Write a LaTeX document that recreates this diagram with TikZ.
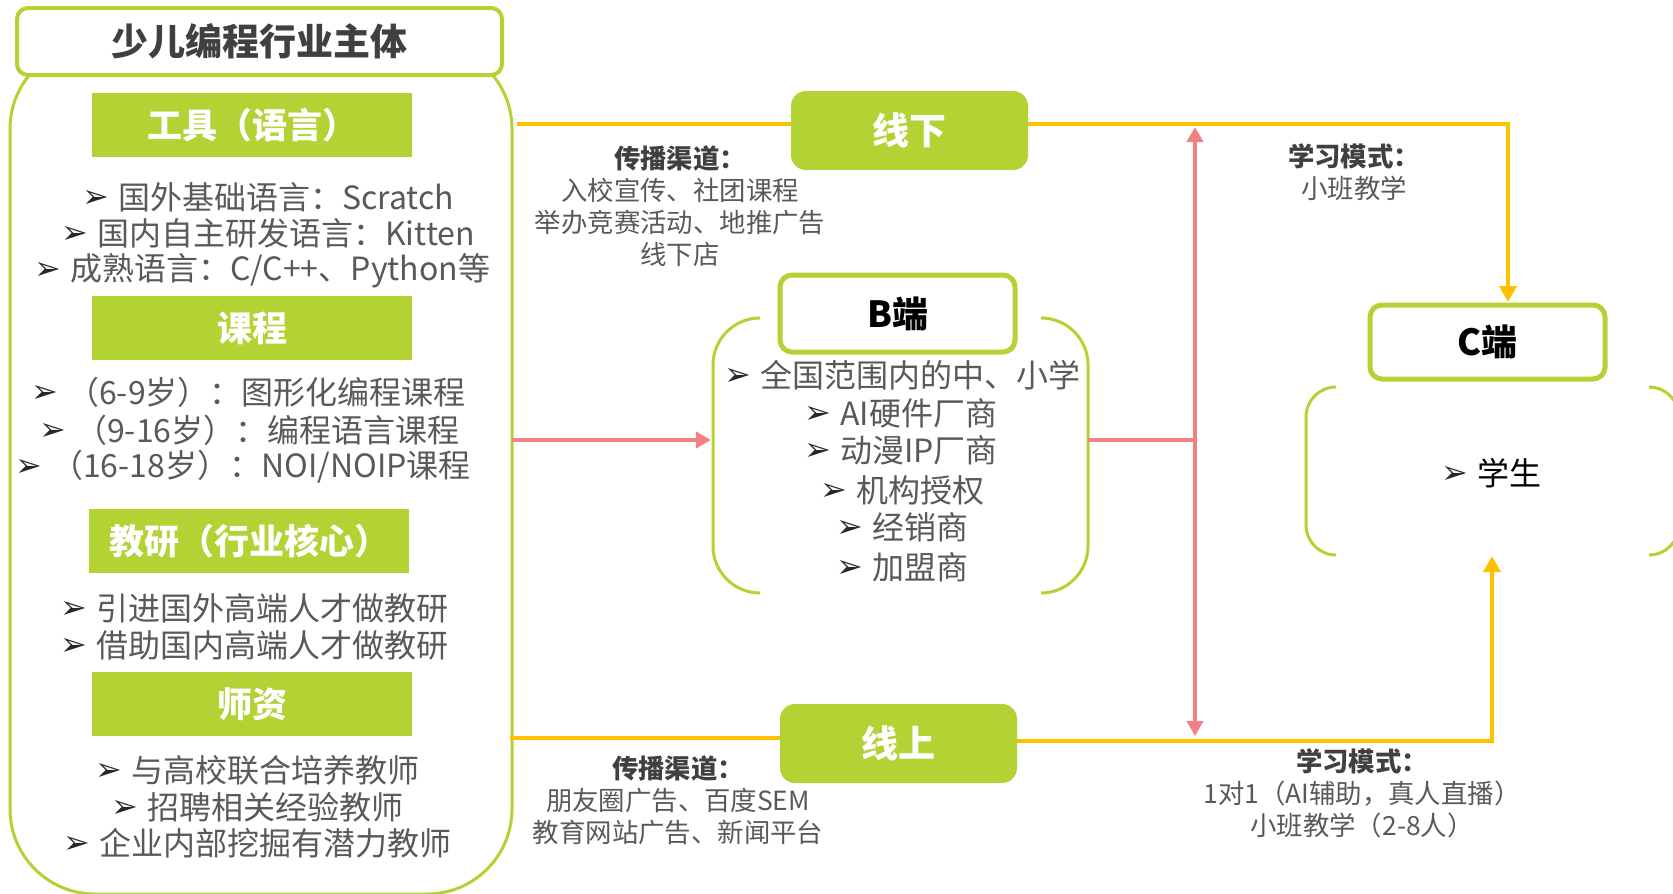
\documentclass[tikz,border=0pt]{standalone}
\usepackage{fontspec}
\setmainfont{Noto Sans CJK SC}
\newfontfamily\symf{DejaVu Sans}
\usetikzlibrary{arrows.meta}
\definecolor{lime}{RGB}{179,210,52}
\definecolor{org}{RGB}{255,192,0}
\definecolor{pnk}{RGB}{240,128,130}
\definecolor{txt}{RGB}{89,89,89}
\definecolor{hd}{RGB}{64,64,64}
\definecolor{arrc}{RGB}{40,40,40}
\newcommand\arw{\makebox[36pt][l]{\raisebox{1.5pt}{\symf\fontsize{32}{32}\selectfont\color{arrc}➢}}}
\begin{document}
\begin{tikzpicture}[x=1pt,y=-1pt,
  hdrbox/.style={fill=lime, text=white, minimum width=320pt, minimum height=64pt, inner sep=0pt, font=\fontsize{35}{40}\selectfont\bfseries},
  itm/.style={anchor=west, inner sep=0pt, text=txt, font=\fontsize{32}{36}\selectfont},
  chan/.style={fill=lime, text=white, rounded corners=15pt, minimum width=237pt, minimum height=79pt, inner sep=0pt, font=\fontsize{37}{40}\selectfont\bfseries},
  endbox/.style={draw=lime, line width=5pt, fill=white, rounded corners=12pt, minimum width=235pt, inner sep=0pt, text=black, font=\fontsize{36}{40}\selectfont\bfseries},
  lbl/.style={align=center, text=txt, inner sep=0pt, font=\fontsize{26.4}{32}\selectfont},
  orgln/.style={draw=org, line width=4.5pt},
  pinkln/.style={draw=pnk, line width=4pt},
  brk/.style={draw=lime, line width=3pt},
  otip/.tip={Triangle[width=17pt,length=16pt]},
  ptip/.tip={Triangle[width=16pt,length=15pt]}]
\useasboundingbox (0,0) rectangle (1673,894);
\clip (0,0) rectangle (1673,894);

% left frame and title
\node[draw=lime, line width=3pt, rounded corners=85pt, minimum width=502pt, minimum height=850pt, inner sep=0pt] (leftbox) at (261,469) {};
\node[draw=lime, line width=4pt, rounded corners=11pt, fill=white, minimum width=485pt, minimum height=67pt, inner sep=0pt, text=hd, font=\fontsize{37}{40}\selectfont\bfseries] (title) at (259.5,41.5) {少儿编程行业主体};

% headers
\node[hdrbox] (h1) at (252,125) {工具（语言）};
\node[hdrbox] (h2) at (252,328) {课程};
\node[hdrbox] (h3) at (249,541) {教研（行业核心）};
\node[hdrbox] (h4) at (252,704) {师资};

% items
\node[itm] (a1) at (82,197) {\arw 国外基础语言：Scratch};
\node[itm] (a2) at (61,233) {\arw 国内自主研发语言：Kitten};
\node[itm] (a3) at (34,271) {\arw 成熟语言：C/C++、Python等};
\node[itm] (b1) at (31,392) {\arw （6-9岁）：图形化编程课程};
\node[itm] (b2) at (39,430) {\arw （9-16岁）：编程语言课程};
\node[itm] (b3) at (15,467) {\arw （16-18岁）：NOI/NOIP课程};
\node[itm] (c1) at (60,608) {\arw 引进国外高端人才做教研};
\node[itm] (c2) at (60,645) {\arw 借助国内高端人才做教研};
\node[itm] (d1) at (95,770) {\arw 与高校联合培养教师};
\node[itm] (d2) at (111,807) {\arw 招聘相关经验教师};
\node[itm] (d3) at (63,843) {\arw 企业内部挖掘有潜力教师};

% orange connectors
\coordinate (oL1) at (517,124);
\coordinate (oC1) at (1508,124);
\coordinate (oT1) at (1508,302);
\coordinate (oL2) at (510,738);
\coordinate (oR2) at (1017,741);
\coordinate (oC2) at (1492,741);
\coordinate (oT2) at (1492,556);
\node[chan, draw=none, fill=none, text=white] (xianxia) at (909.5,130.5) {};
\node[chan, draw=none, fill=none, text=white] (xianshang) at (898.5,743.5) {};
\draw[orgln] (oL1) -- (xianxia.west |- oL1);
\draw[orgln,-otip] (xianxia.east |- oL1) -- (oC1) -- (oT1);
\draw[orgln] (oL2) -- (xianshang.west |- oL2);
\draw[orgln,-otip] (xianshang.east |- oR2) -- (oC2) -- (oT2);
\node[chan] (xxbox) at (xianxia) {线下};
\node[chan] (xsbox) at (xianshang) {线上};

% B bracket
\draw[brk] (760,318) arc[start angle=270,end angle=180,radius=47] -- (713,546) arc[start angle=180,end angle=90,radius=47];
\draw[brk] (1041,318) arc[start angle=270,end angle=360,radius=47] -- (1088,546) arc[start angle=0,end angle=90,radius=47];
\node[endbox, minimum height=77pt] (bend) at (897.5,313.5) {B端};
\node[itm] (e1) at (724,375) {\arw 全国范围内的中、小学};
\node[itm] (e2) at (804,413) {\arw AI硬件厂商};
\node[itm] (e3) at (804,450) {\arw 动漫IP厂商};
\node[itm] (e4) at (820,490) {\arw 机构授权};
\node[itm] (e5) at (836,527) {\arw 经销商};
\node[itm] (e6) at (836,567) {\arw 加盟商};

% pink connectors
\coordinate (pL) at (512,440);
\coordinate (pR) at (711,440);
\coordinate (pB) at (1088,440);
\coordinate (pV) at (1195,440);
\coordinate (pTop) at (1195,127);
\coordinate (pBot) at (1195,736);
\draw[pinkln,-ptip] (pL) -- (pR);
\draw[pinkln] (pB) -- (pV);
\draw[pinkln,ptip-ptip] (pBot) -- (pTop);

% C bracket
\draw[brk] (1336,387) arc[start angle=270,end angle=180,radius=30] -- (1306,525) arc[start angle=180,end angle=90,radius=30];
\draw[brk] (1649,387) arc[start angle=270,end angle=360,radius=30] -- (1679,525) arc[start angle=0,end angle=90,radius=30];
\node[endbox, minimum height=74pt] (cend) at (1487.5,342) {C端};
\node[itm, text=black] (f1) at (1441,473) {\arw 学生};

% labels
\node[lbl] (l1) at (680,206) {{\bfseries\color{hd}传播渠道：}\\入校宣传、社团课程\\举办竞赛活动、地推广告\\线下店};
\node[lbl] (l2) at (678,800) {{\bfseries\color{hd}传播渠道：}\\朋友圈广告、百度SEM\\教育网站广告、新闻平台};
\node[lbl] (l3) at (1354,172) {{\bfseries\color{hd}学习模式：}\\小班教学};
\node[lbl] (l4) at (1362,793) {{\bfseries\color{hd}学习模式：}\\1对1（AI辅助，真人直播）\\小班教学（2-8人）};
\end{tikzpicture}
\end{document}
